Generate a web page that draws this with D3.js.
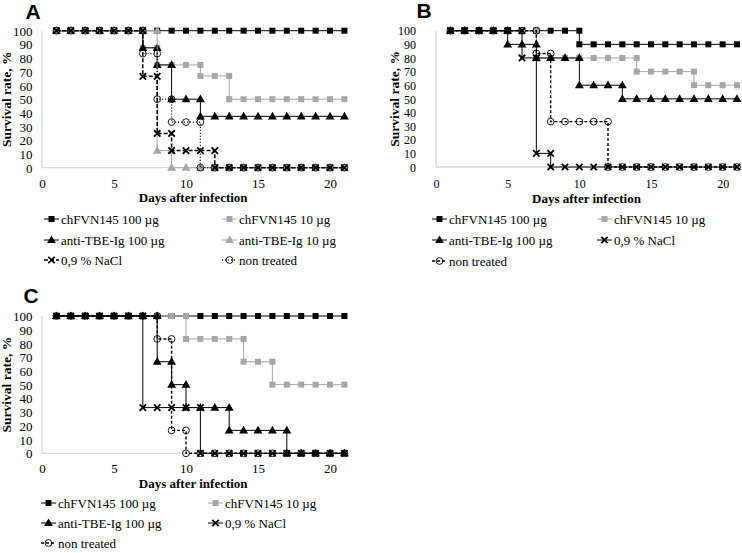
<!DOCTYPE html>
<html><head><meta charset="utf-8">
<script src="https://cdn.jsdelivr.net/npm/d3@7/dist/d3.min.js"></script>
<style>body{margin:0;background:#fff} svg{display:block}</style>
</head><body>
<svg id="chart" width="742" height="553"></svg>
<script>
// ---------- DATA (survival % at the end of each day, days 1..21) ----------
const dayTicks = [0, 5, 10, 15, 20];
const yTicks = [0, 10, 20, 30, 40, 50, 60, 70, 80, 90, 100];
const seriesLabels = {
  chfvn100: "chFVN145 100 µg",
  chfvn10: "chFVN145 10 µg",
  tbe100: "anti-TBE-Ig 100 µg",
  tbe10: "anti-TBE-Ig 10 µg",
  nacl: "0,9 % NaCl",
  nontreated: "non treated"
};

// Panel A
const aChfvn100 = [100,100,100,100,100,100,100,100,100,100,100,100,100,100,100,100,100,100,100,100,100];
const aChfvn10  = [100,100,100,100,100,100,87.5,75,75,75,67,67,50,50,50,50,50,50,50,50,50];
const aTbe100   = [100,100,100,100,100,100,87.5,75,50,50,37.5,37.5,37.5,37.5,37.5,37.5,37.5,37.5,37.5,37.5,37.5];
const aTbe10    = [100,100,100,100,100,100,100,12.5,0,0,0,0,0,0,0,0,0,0,0,0,0];
const aNacl     = [100,100,100,100,100,100,66.7,25,12.5,12.5,12.5,0,0,0,0,0,0,0,0,0,0];
const aNontreat = [100,100,100,100,100,100,83.3,50,33.3,33.3,0,0,0,0,0,0,0,0,0,0,0];

// Panel B
const bChfvn100 = [100,100,100,100,100,100,100,100,100,90,90,90,90,90,90,90,90,90,90,90,90];
const bChfvn10  = [100,100,100,100,100,100,80,80,80,80,80,80,80,70,70,70,70,60,60,60,60];
const bTbe100   = [100,100,100,100,90,90,80,80,80,60,60,60,50,50,50,50,50,50,50,50,50];
const bNacl     = [100,100,100,100,100,80,10,0,0,0,0,0,0,0,0,0,0,0,0,0,0];
const bNontreat = [100,100,100,100,100,100,83.3,33.3,33.3,33.3,33.3,0,0,0,0,0,0,0,0,0,0];

// Panel C
const cChfvn100 = [100,100,100,100,100,100,100,100,100,100,100,100,100,100,100,100,100,100,100,100,100];
const cChfvn10  = [100,100,100,100,100,100,100,100,100,83.3,83.3,83.3,83.3,66.7,66.7,50,50,50,50,50,50];
const cTbe100   = [100,100,100,100,100,100,100,66.7,50,33.3,33.3,33.3,16.7,16.7,16.7,16.7,0,0,0,0,0];
const cNacl     = [100,100,100,100,100,100,33.3,33.3,33.3,33.3,0,0,0,0,0,0,0,0,0,0,0];
const cNontreat = [100,100,100,100,100,100,100,83.3,16.7,0,0,0,0,0,0,0,0,0,0,0,0];

// ---------- STYLES ----------
const GRAY = "#a6a6a6";
const baseStyle = {
  chfvn100: {color:"#000", marker:"square", fill:"#000", dash:null, w:1},
  chfvn10:  {color:GRAY, marker:"square", fill:GRAY, dash:null, w:1},
  tbe100:   {color:"#000", marker:"triangle", fill:"#000", dash:null, w:1},
  tbe10:    {color:GRAY, marker:"triangle", fill:GRAY, dash:null, w:1},
  nacl:     {color:"#000", marker:"x", fill:"none", dash:null, w:1},
  nontreated:{color:"#000", marker:"circle", fill:"none", dash:"3,2", w:1.4}
};

const panels = [
  { letter:"A", letterX:33, letterY:19, tickFont:13,
    xr:[42,344.4], yr:[167.7,30.7], ytickX:32.5, ytitleX:7, xtickY:188, xtitleY:202,
    series:[["chfvn100",aChfvn100],["chfvn10",aChfvn10],["tbe100",aTbe100],["tbe10",aTbe10],["nacl",aNacl],["nontreated",aNontreat]],
    override:{nacl:{dash:"4,2", w:1.5}, nontreated:{dash:"1,2", w:1.3}},
    legend:{rows:[["chfvn100","chfvn10"],["tbe100","tbe10"],["nacl","nontreated"]], cols:[44,222], rowY:[219,240,260]} },
  { letter:"B", letterX:424, letterY:18, tickFont:12,
    xr:[436,737], yr:[167,30.7], ytickX:416, ytitleX:395, xtickY:188, xtitleY:203,
    series:[["chfvn100",bChfvn100],["chfvn10",bChfvn10],["tbe100",bTbe100],["nacl",bNacl],["nontreated",bNontreat]],
    override:{},
    legend:{rows:[["chfvn100","chfvn10"],["tbe100","nacl"],["nontreated"]], cols:[432,597], rowY:[219,240,261]} },
  { letter:"C", letterX:31, letterY:303, tickFont:13,
    xr:[42,344.4], yr:[453.3,316], ytickX:32.5, ytitleX:7, xtickY:473, xtitleY:488,
    series:[["chfvn100",cChfvn100],["chfvn10",cChfvn10],["tbe100",cTbe100],["nacl",cNacl],["nontreated",cNontreat]],
    override:{},
    legend:{rows:[["chfvn100","chfvn10"],["tbe100","nacl"],["nontreated"]], cols:[41,208], rowY:[503,523,543]} }
];

const svg = d3.select("#chart");
const FONT = "'Liberation Serif','Times New Roman',serif";

function stepPoints(vals){
  const pts = []; let prev = 100;
  vals.forEach((v,i)=>{ const d=i+1; pts.push([d,prev]); if(v!==prev) pts.push([d,v]); prev=v; });
  return pts;
}

function drawMarker(g, type, cx, cy, st){
  if(type==="square"){
    g.append("rect").attr("x",cx-3).attr("y",cy-3).attr("width",6).attr("height",6).attr("fill",st.fill);
  } else if(type==="triangle"){
    g.append("path").attr("d",d3.symbol().type(d3.symbolTriangle).size(34)()).attr("transform",`translate(${cx},${cy+0.5})`).attr("fill",st.fill);
  } else if(type==="x"){
    const s=3.2;
    g.append("path").attr("d",`M${cx-s},${cy-s}L${cx+s},${cy+s}M${cx-s},${cy+s}L${cx+s},${cy-s}`).attr("stroke","#000").attr("stroke-width",1.8).attr("fill","none");
  } else if(type==="circle"){
    g.append("circle").attr("cx",cx).attr("cy",cy).attr("r",3.4).attr("fill","none").attr("stroke","#000").attr("stroke-width",0.9);
  }
}

panels.forEach(p=>{
  const x = d3.scaleLinear().domain([0,21]).range(p.xr);
  const y = d3.scaleLinear().domain([0,100]).range(p.yr);
  const g = svg.append("g");

  // axes (light gray lines, no ticks)
  const xAxis = d3.axisBottom(x).tickValues(dayTicks).tickSize(0).tickPadding(0);
  const yAxis = d3.axisLeft(y).tickValues(yTicks).tickSize(0).tickPadding(0);
  const gx = g.append("g").attr("transform",`translate(0,${p.yr[0]})`).call(xAxis);
  gx.select(".domain").attr("d",`M${p.xr[0]},0H${p.xr[1]+4}`).attr("stroke","#d9d9d9").attr("stroke-width",1.3);
  gx.selectAll("text").attr("y",p.xtickY-p.yr[0]).attr("dy","0").attr("font-family",FONT).attr("font-size",p.tickFont).attr("fill","#000");
  const gy = g.append("g").attr("transform",`translate(${p.xr[0]},0)`).call(yAxis);
  gy.select(".domain").attr("d",`M0,${p.yr[0]}V${p.yr[1]}`).attr("stroke","#d9d9d9").attr("stroke-width",1.3);
  gy.selectAll("text").attr("x",p.ytickX-p.xr[0]).attr("dy","0.35em").attr("font-family",FONT).attr("font-size",p.tickFont).attr("fill","#000").attr("text-anchor","end");

  // titles
  g.append("text").attr("x",(p.xr[0]+p.xr[1])/2).attr("y",p.xtitleY).attr("text-anchor","middle")
    .attr("font-family",FONT).attr("font-weight","bold").attr("font-size",13).text("Days after infection");
  g.append("text").attr("transform",`translate(${p.ytitleX+4},${(p.yr[0]+p.yr[1])/2}) rotate(-90)`).attr("text-anchor","middle")
    .attr("font-family",FONT).attr("font-weight","bold").attr("font-size",13.5).text("Survival rate, %");
  g.append("text").attr("x",p.letterX).attr("y",p.letterY).attr("text-anchor","middle")
    .attr("font-family","'Liberation Sans',Arial,sans-serif").attr("font-weight","bold").attr("font-size",21).text(p.letter);

  // series
  const line = d3.line().x(d=>x(d[0])).y(d=>y(d[1]));
  p.series.forEach(([key,vals])=>{
    const st = Object.assign({}, baseStyle[key], p.override[key]||{});
    const pts = stepPoints(vals);
    const sg = g.append("g");
    sg.append("path").attr("d",line(pts)).attr("fill","none").attr("stroke",st.color)
      .attr("stroke-width",st.w).attr("stroke-dasharray",st.dash);
    pts.forEach(pt=>drawMarker(sg, st.marker, x(pt[0]), y(pt[1]), st));
  });

  // legend
  p.legend.rows.forEach((row,ri)=>{
    row.forEach((key,ci)=>{
      const st = Object.assign({}, baseStyle[key], p.override[key]||{});
      const lx = p.legend.cols[ci], ly = p.legend.rowY[ri];
      const lg = g.append("g");
      lg.append("path").attr("d",`M${lx},${ly}H${lx+15}`).attr("stroke",st.color).attr("stroke-width",st.w).attr("stroke-dasharray",st.dash).attr("fill","none");
      drawMarker(lg, st.marker, lx+7.5, ly, st);
      lg.append("text").attr("x",lx+17).attr("y",ly).attr("dy","0.35em").attr("font-family",FONT).attr("font-size",13).text(seriesLabels[key]);
    });
  });
});
</script>
</body></html>
